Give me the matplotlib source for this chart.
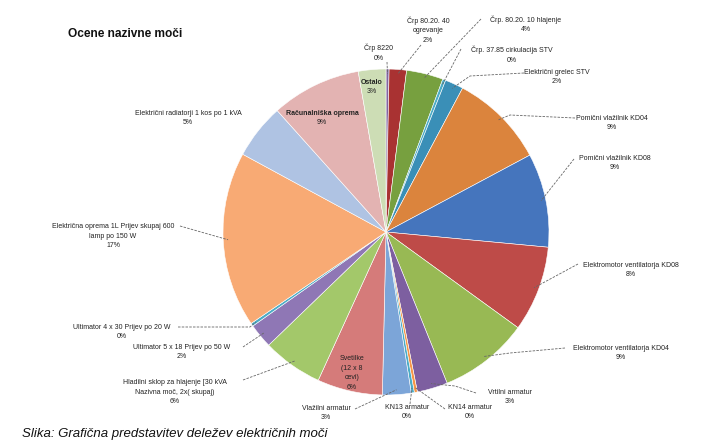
import matplotlib
matplotlib.use("Agg")
import matplotlib.pyplot as plt
import numpy as np

W, H = 718, 442

# --- data -----------------------------------------------------------------
names = [
    "Črp 8220",
    "Črp 80.20. 40\nogrevanje",
    "Črp. 80.20. 10 hlajenje",
    "Črp. 37.85 cirkulacija STV",
    "Električni grelec STV",
    "Pomični vlažilnik KD04",
    "Pomični vlažilnik KD08",
    "Elektromotor ventilatorja KD08",
    "Elektromotor ventilatorja KD04",
    "Vrtilni armatur",
    "KN14 armatur",
    "KN13 armatur",
    "Vlažilni armatur",
    "Svetilke\n(12 x 8\ncevi)",
    "Hladilni sklop za hlajenje [30 kVA\nNazivna moč, 2x( skupaj)",
    "Ultimator 5 x 18 Prijev po 50 W",
    "Ultimator 4 x 30 Prijev po 20 W",
    "Električna oprema 1L Prijev skupaj 600\nlamp po 150 W",
    "Električni radiatorji 1 kos po 1 kVA",
    "Računalniška oprema",
    "Ostalo",
]
values = [0.3, 1.7, 3.6, 0.3, 1.8, 9.3, 9.2, 8.4, 8.8, 3.0, 0.3, 0.3,
          2.8, 6.4, 5.9, 2.4, 0.3, 17.2, 5.4, 8.8, 2.7]
colors = ["#8064A2", "#A93232", "#77A03F", "#4BACC6", "#3A8FB7", "#DB843D",
          "#4575BD", "#BE4B48", "#98B954", "#7D5FA0", "#F79646", "#4BACC6",
          "#7CA5D8", "#D57B7A", "#A3C86A", "#8F77B5", "#4BACC6", "#F8AA74",
          "#AFC3E3", "#E3B3B2", "#CDDDB5"]

title = "Ocene nazivne moči"
caption = "Slika: Grafična predstavitev deležev električnih moči"

# --- layout (pixel coordinates, y measured from the top) ------------------
cx, cy, R = 386, 232, 163
# text centre for every slice, and the point where its leader line starts
label_pos = [
    (379, 53), (428, 30), (526, 24), (512, 55), (557, 77), (612, 123),
    (615, 163), (631, 270), (621, 353), (510, 397), (470, 412), (407, 412),
    (326, 413), (352, 373), (175, 392), (182, 352), (122, 332), (113, 236),
    (188, 118), (322, 117), (372, 86),
]
leader_from = [
    (387, 62), (421, 45), (481, 19), (461, 49), (524, 73), (575, 118),
    (574, 159), (578, 264), (565, 348), (476, 393), (445, 409), (410, 404),
    (355, 409), None, (243, 380), (243, 347), (178, 327), (180, 226),
    None, None, None,
]
leader_knee = {4: (470, 76), 5: (510, 115), 8: (510, 353), 9: (455, 386),
               16: (250, 327)}
inside = {13, 19, 20}
bold_names = {19, 20}

plt.rcParams["font.family"] = ["Liberation Sans", "DejaVu Sans"]

fig = plt.figure(figsize=(W / 100, H / 100), dpi=100)
ax = fig.add_axes([0, 0, 1, 1])
ax.set_xlim(0, W)
ax.set_ylim(0, H)
ax.set_aspect("equal")
ax.axis("off")


def fy(y):
    return H - y


wedges, _ = ax.pie(values, colors=colors, startangle=90, counterclock=False,
                   center=(cx, fy(cy)), radius=R,
                   wedgeprops=dict(edgecolor="white", linewidth=0.4))
ax.set_xlim(0, W)
ax.set_ylim(0, H)

fs = 5.0
total = sum(values)
for i, (name, v, w) in enumerate(zip(names, values, wedges)):
    pct = f"{round(100 * v / total):.0f}%"
    x, y = label_pos[i]
    if i in bold_names:
        ax.text(x, fy(y) + 3.5, name, ha="center", va="center", fontsize=fs,
                fontweight="bold", color="#222222")
        ax.text(x, fy(y) - 5.5, pct, ha="center", va="center", fontsize=fs,
                color="#222222")
    else:
        ax.text(x, fy(y), name + "\n" + pct, ha="center", va="center",
                fontsize=fs, linespacing=1.5, color="#222222")
    start = leader_from[i]
    if start is None or i in inside:
        continue
    mid = np.deg2rad((w.theta1 + w.theta2) / 2)
    ex = cx + 0.97 * R * np.cos(mid)
    ey = fy(cy) + 0.97 * R * np.sin(mid)
    xs = [start[0]]
    ys = [fy(start[1])]
    if i in leader_knee:
        kx, ky = leader_knee[i]
        xs.append(kx)
        ys.append(fy(ky))
    xs.append(ex)
    ys.append(ey)
    ax.plot(xs, ys, color="#666666", lw=0.6, ls=(0, (3, 1.5)))

ax.text(68, fy(34), title, ha="left", va="center", fontsize=8.6,
        fontweight="bold", color="#111111")
ax.text(22, fy(428), caption, ha="left", va="top", fontsize=9.5,
        style="italic", color="#111111")

fig.savefig("out.png", dpi=100)
